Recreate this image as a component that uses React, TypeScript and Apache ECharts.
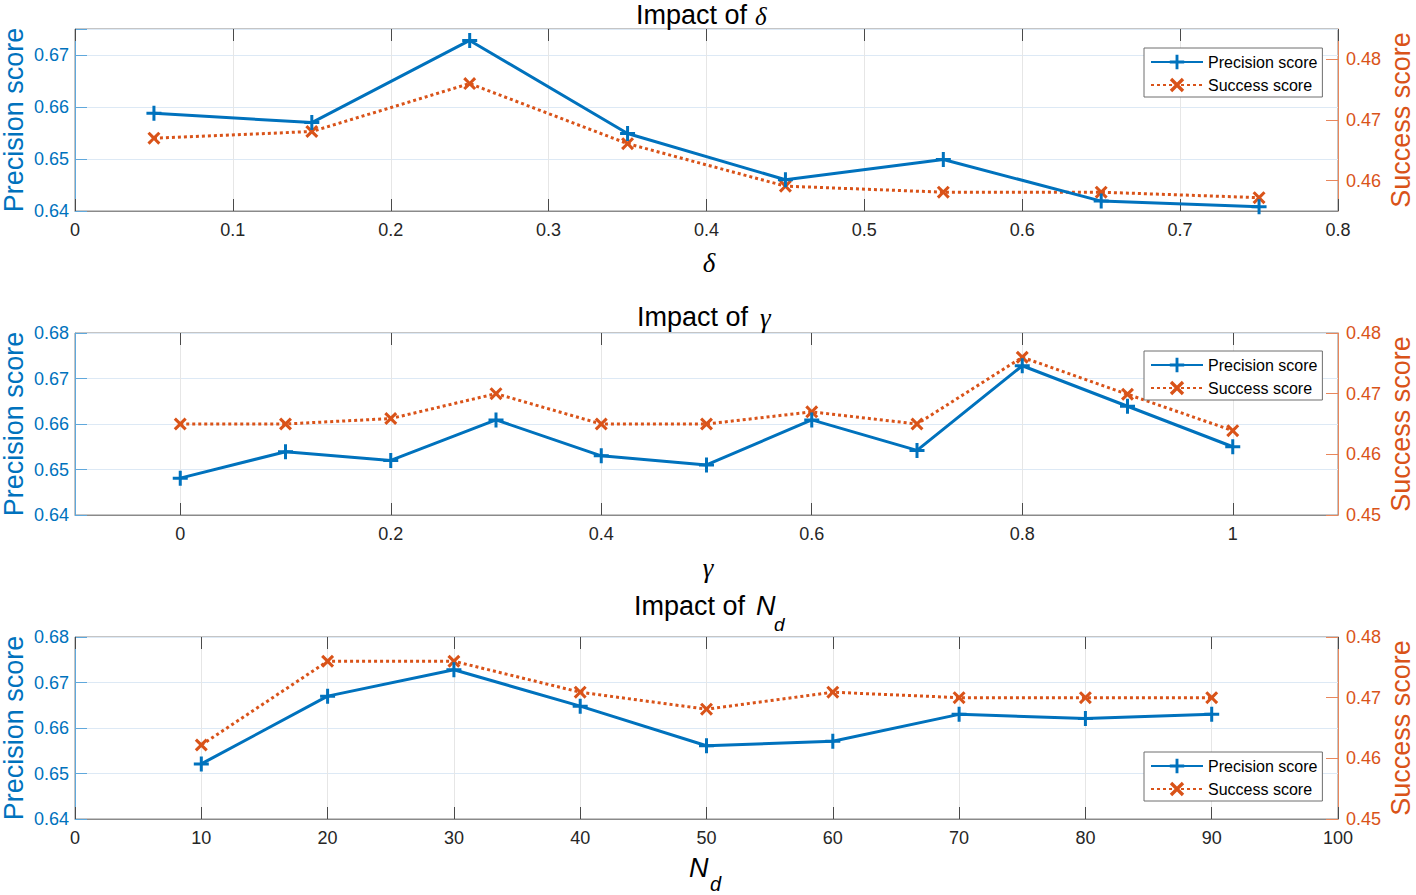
import React, { useEffect, useRef } from 'react';
import * as echarts from 'echarts';

// ---------- data ----------
const deltaX = [0.05, 0.15, 0.25, 0.35, 0.45, 0.55, 0.65, 0.75];
const deltaPrecision = [0.6588, 0.657, 0.6728, 0.6549, 0.646, 0.6499, 0.6419, 0.6408];
const deltaSuccess = [0.467, 0.4681, 0.476, 0.4661, 0.4591, 0.4581, 0.4581, 0.4572];

const gammaX = [0, 0.1, 0.2, 0.3, 0.4, 0.5, 0.6, 0.7, 0.8, 0.9, 1.0];
const gammaPrecision = [0.6481, 0.6539, 0.652, 0.6609, 0.653, 0.651, 0.6609, 0.6542, 0.6728, 0.6639, 0.655];
const gammaSuccess = [0.465, 0.465, 0.4659, 0.47, 0.465, 0.465, 0.467, 0.465, 0.476, 0.4699, 0.4639];

const ndX = [10, 20, 30, 40, 50, 60, 70, 80, 90];
const ndPrecision = [0.6521, 0.667, 0.6728, 0.6648, 0.6561, 0.6571, 0.663, 0.6621, 0.663];
const ndSuccess = [0.4622, 0.476, 0.476, 0.4709, 0.4681, 0.4709, 0.47, 0.47, 0.47];

const gammaTicks = [0, 0.2, 0.4, 0.6, 0.8, 1];
const deltaSuccessTicks = [0.46, 0.47, 0.48];

const seriesNames = ['Precision score', 'Success score'];

// ---------- styling ----------
const BLUE = '#0072BD';
const ORANGE = '#D95319';
const BLUE_AXIS = '#5fa8dc';
const ORANGE_AXIS = '#e8875c';
const SANS = '"Liberation Sans", Arial, Helvetica, sans-serif';
const SERIF = '"Liberation Serif", "DejaVu Serif", serif';

const PLUS =
  'path://M-1.5,-7.5 L1.5,-7.5 L1.5,-1.5 L7.5,-1.5 L7.5,1.5 L1.5,1.5 L1.5,7.5 L-1.5,7.5 L-1.5,1.5 L-7.5,1.5 L-7.5,-1.5 L-1.5,-1.5 Z';
const CROSS =
  'path://M4.24,-6.36 L6.36,-4.24 L2.12,0 L6.36,4.24 L4.24,6.36 L0,2.12 L-4.24,6.36 L-6.36,4.24 L-2.12,0 L-6.36,-4.24 L-4.24,-6.36 L0,-2.12 Z';

const GRID_TOPS = [29, 333, 637];
const GRID_H = 182;
const GRID_LEFT = 75;
const GRID_RIGHT = 78;

function leftFmt(v: number) {
  const r = Math.round(v * 100);
  return Math.abs(v * 100 - r) < 1e-6 ? (r / 100).toFixed(2) : '';
}
function rightFmt(v: number) {
  return (Math.round(v * 100) / 100).toFixed(2);
}

export default function App() {
  const ref = useRef<HTMLDivElement>(null);

  useEffect(() => {
    if (!ref.current) return;
    const chart = echarts.init(ref.current, null, { renderer: 'svg' });

    const panels = [
      { xs: deltaX, p: deltaPrecision, s: deltaSuccess },
      { xs: gammaX, p: gammaPrecision, s: gammaSuccess },
      { xs: ndX, p: ndPrecision, s: ndSuccess },
    ];

    const grids = GRID_TOPS.map((t) => ({
      left: GRID_LEFT,
      right: GRID_RIGHT,
      top: t,
      height: GRID_H,
      show: true,
      borderColor: '#8a8a8a',
      borderWidth: 1,
      backgroundColor: 'transparent',
    }));

    const tickStyle = { show: true, inside: true, length: 12, lineStyle: { color: '#4a4a4a', width: 1 } };
    const xLabel = { color: '#262626', fontSize: 18, fontFamily: SANS, margin: 10 };
    const vSplit = { show: true, lineStyle: { color: '#e6e6e6', width: 1 } };
    const xLine = { show: true, onZero: false, lineStyle: { color: '#8a8a8a' } };

    const xAxes: any[] = [
      {
        gridIndex: 0, type: 'value', min: 0, max: 0.8, interval: 0.1,
        axisLine: xLine,
        axisTick: tickStyle,
        axisLabel: { ...xLabel, formatter: (v: number) => String(Math.round(v * 10) / 10) },
        splitLine: vSplit,
      },
      {
        gridIndex: 1, type: 'value', min: -0.1, max: 1.1,
        axisLine: xLine,
        axisTick: { ...tickStyle, customValues: gammaTicks },
        axisLabel: { ...xLabel, customValues: gammaTicks, formatter: (v: number) => String(Math.round(v * 10) / 10) },
        splitLine: vSplit,
      },
      {
        gridIndex: 2, type: 'value', min: 0, max: 100, interval: 10,
        axisLine: xLine,
        axisTick: tickStyle,
        axisLabel: { ...xLabel, formatter: (v: number) => String(Math.round(v)) },
        splitLine: vSplit,
      },
    ];
    const noLine = { show: false, onZero: false };
    // top tick axes (box ticks)
    xAxes.push(
      { gridIndex: 0, type: 'value', position: 'top', min: 0, max: 0.8, interval: 0.1, axisLine: noLine, axisTick: tickStyle, axisLabel: { show: false }, splitLine: { show: false } },
      { gridIndex: 1, type: 'value', position: 'top', min: -0.1, max: 1.1, axisLine: noLine, axisTick: { ...tickStyle, customValues: gammaTicks }, axisLabel: { show: false, customValues: gammaTicks }, splitLine: { show: false } },
      { gridIndex: 2, type: 'value', position: 'top', min: 0, max: 100, interval: 10, axisLine: noLine, axisTick: tickStyle, axisLabel: { show: false }, splitLine: { show: false } },
    );

    const leftAxis = (gi: number, max: number) => ({
      gridIndex: gi, type: 'value', position: 'left', min: 0.64, max, interval: 0.01,
      axisLine: { show: true, onZero: false, lineStyle: { color: BLUE_AXIS, width: 1 } },
      axisTick: { show: true, inside: true, length: 12, lineStyle: { color: BLUE_AXIS } },
      axisLabel: { color: BLUE, fontSize: 18, fontFamily: SANS, margin: 6, formatter: leftFmt },
      splitLine: { show: true, lineStyle: { color: '#dde9f5', width: 1 } },
    });
    const rightTick = { show: true, inside: true, length: 12, lineStyle: { color: ORANGE_AXIS } };
    const rightLabel = { color: ORANGE, fontSize: 18, fontFamily: SANS, margin: 8, formatter: rightFmt };
    const rightLine = { show: true, onZero: false, lineStyle: { color: ORANGE_AXIS, width: 1 } };

    const yAxes: any[] = [
      leftAxis(0, 0.675),
      {
        gridIndex: 0, type: 'value', position: 'right', min: 0.455, max: 0.485,
        axisLine: rightLine,
        axisTick: { ...rightTick, customValues: deltaSuccessTicks },
        axisLabel: { ...rightLabel, customValues: deltaSuccessTicks },
        splitLine: { show: false },
      },
      leftAxis(1, 0.68),
      {
        gridIndex: 1, type: 'value', position: 'right', min: 0.45, max: 0.48, interval: 0.01,
        axisLine: rightLine, axisTick: rightTick, axisLabel: rightLabel, splitLine: { show: false },
      },
      leftAxis(2, 0.68),
      {
        gridIndex: 2, type: 'value', position: 'right', min: 0.45, max: 0.48, interval: 0.01,
        axisLine: rightLine, axisTick: rightTick, axisLabel: rightLabel, splitLine: { show: false },
      },
    ];

    const series: any[] = [];
    panels.forEach((pn, i) => {
      series.push({
        type: 'line', name: seriesNames[0], xAxisIndex: i, yAxisIndex: 2 * i,
        data: pn.xs.map((x, j) => [x, pn.p[j]]),
        symbol: PLUS, symbolSize: 15,
        lineStyle: { color: BLUE, width: 3 },
        itemStyle: { color: BLUE },
        z: 4,
      });
      series.push({
        type: 'line', name: seriesNames[1], xAxisIndex: i, yAxisIndex: 2 * i + 1,
        data: pn.xs.map((x, j) => [x, pn.s[j]]),
        symbol: CROSS, symbolSize: 13,
        lineStyle: { color: ORANGE, width: 3, type: [3, 3] },
        itemStyle: { color: ORANGE },
        z: 3,
      });
    });

    const legendTops = [48, 351, 752];
    const legends = legendTops.map((t) => ({
      orient: 'vertical', left: 1144, top: t,
      padding: [6, 5, 4, 6], itemGap: 7, itemWidth: 52, itemHeight: 18,
      backgroundColor: '#ffffff', borderColor: '#6e6e6e', borderWidth: 1,
      textStyle: { fontSize: 16, color: '#000', fontFamily: SANS },
      data: seriesNames, selectedMode: false,
    }));

    const txt = (x: number, y: number, text: string, extra: any = {}) => ({
      type: 'text', x, y, z: 100,
      style: {
        text, fill: '#000', fontSize: 27, fontFamily: SANS,
        textAlign: 'left', textVerticalAlign: 'middle', ...extra,
      },
    });

    const greek = { fontFamily: SERIF, fontStyle: 'italic', fontSize: 27 };
    const graphics: any[] = [
      // titles
      txt(636, 15, 'Impact of'),
      txt(755, 16, 'δ', { ...greek, fontSize: 25 }),
      txt(637, 317, 'Impact of'),
      txt(760, 318, 'γ', greek),
      txt(634, 606, 'Impact of'),
      txt(756, 606, 'N', { fontStyle: 'italic' }),
      txt(774, 624, 'd', { fontStyle: 'italic', fontSize: 19 }),
      // x axis names
      txt(709, 263, 'δ', { ...greek, textAlign: 'center' }),
      txt(708, 568, 'γ', { ...greek, textAlign: 'center' }),
      txt(689, 868, 'N', { fontStyle: 'italic', fontSize: 27 }),
      txt(710, 884, 'd', { fontStyle: 'italic', fontSize: 20 }),
    ];
    GRID_TOPS.forEach((t) => {
      const cy = t + GRID_H / 2;
      graphics.push({
        type: 'text', x: 14, y: cy, rotation: Math.PI / 2, z: 100,
        style: { text: 'Precision score', fill: BLUE, fontSize: 27, fontFamily: SANS, textAlign: 'center', textVerticalAlign: 'middle' },
      });
      graphics.push({
        type: 'text', x: 1401, y: cy, rotation: Math.PI / 2, z: 100,
        style: { text: 'Success score', fill: ORANGE, fontSize: 27, fontFamily: SANS, textAlign: 'center', textVerticalAlign: 'middle' },
      });
    });

    chart.setOption({
      animation: false,
      backgroundColor: '#ffffff',
      textStyle: { fontFamily: SANS },
      grid: grids,
      xAxis: xAxes,
      yAxis: yAxes,
      legend: legends,
      series,
      graphic: graphics,
    });

    return () => chart.dispose();
  }, []);

  return (
    <div
      ref={ref}
      style={{ position: 'absolute', left: 0, top: 0, width: 1416, height: 895, background: '#fff' }}
    />
  );
}
